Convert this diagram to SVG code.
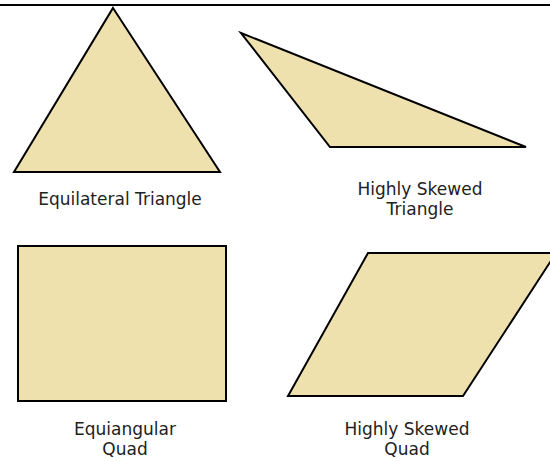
<svg xmlns="http://www.w3.org/2000/svg" width="550" height="461" viewBox="0 0 550 461">
<style>
.shape{fill:#EEE1AE;stroke:#000;stroke-width:2;stroke-linejoin:miter}
.lbl{font-family:"DejaVu Sans",Verdana,sans-serif;font-size:17px;fill:#222;text-anchor:middle}
</style>
<rect x="0" y="0" width="550" height="461" fill="#fff"/>
<line x1="0" y1="5" x2="550" y2="5" stroke="#000" stroke-width="2"/>
<g id="equilateral-triangle">
<polygon class="shape" points="113,8 220,172 14,172"/>
<text class="lbl" x="120" y="205">Equilateral Triangle</text>
</g>
<g id="skewed-triangle">
<polygon class="shape" points="241,33 526,147 330,147"/>
<text class="lbl" x="420" y="195">Highly Skewed</text>
<text class="lbl" x="420" y="215">Triangle</text>
</g>
<g id="equiangular-quad">
<rect class="shape" x="18" y="246" width="208" height="155"/>
<text class="lbl" x="125" y="435">Equiangular</text>
<text class="lbl" x="125" y="455">Quad</text>
</g>
<g id="skewed-quad">
<polygon class="shape" points="368,253 556,253 463,396 288,396"/>
<text class="lbl" x="407" y="435">Highly Skewed</text>
<text class="lbl" x="407" y="455">Quad</text>
</g>
<g id="connectors"></g>
</svg>
